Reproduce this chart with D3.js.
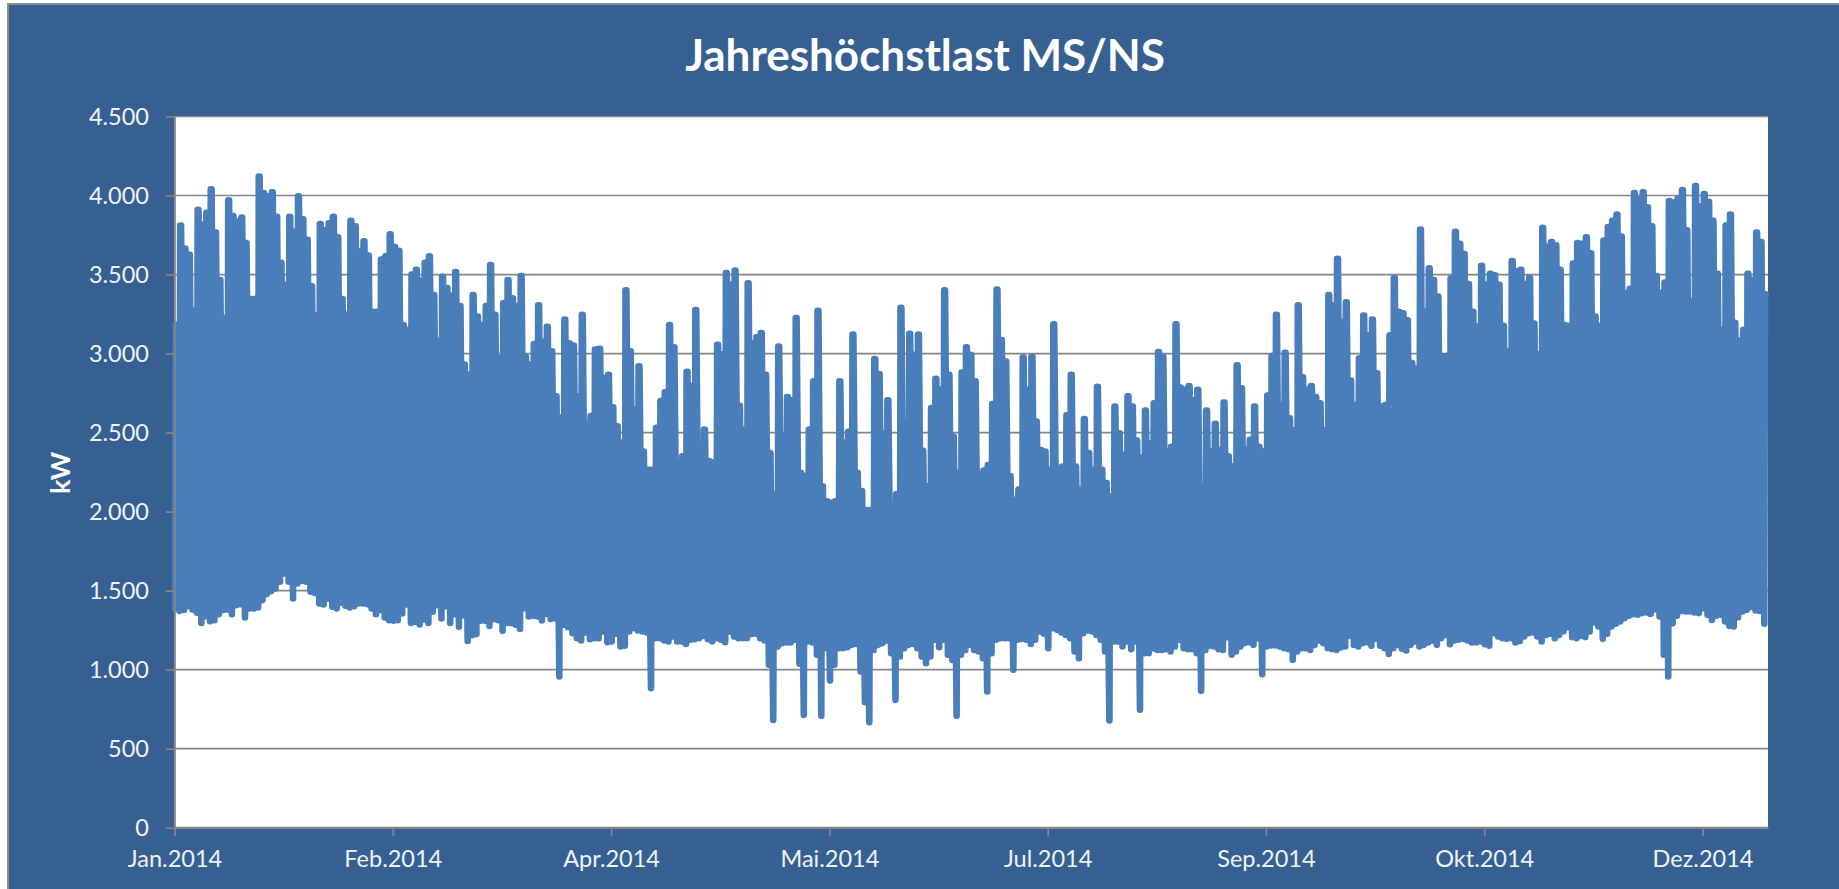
<!DOCTYPE html>
<html>
<head>
<meta charset="utf-8">
<title>Jahreshöchstlast MS/NS</title>
<script src="https://cdn.jsdelivr.net/npm/d3@7"></script>
<style>
  html, body { margin: 0; padding: 0; background: #fff; }
  svg { display: block; }
  text { font-family: Lato, "Open Sans", sans-serif; }
</style>
</head>
<body>
<script>
// highest load of each day, kW (one row per week, starting on Monday)
var dailyMax = [
  3180,3810,3665,3625,3270,
  3910,3815,3890,4040,3765,3465,3225,
  3970,3870,3835,3860,3700,3345,3345,
  4120,4015,3995,4020,3865,3575,3435,
  3865,3770,3995,3850,3720,3425,3240,
  3820,3780,3825,3865,3735,3345,3245,
  3840,3805,3645,3710,3620,3265,3265,
  3595,3615,3755,3675,3650,3180,3150,
  3500,3530,3460,3575,3615,3370,3080,
  3485,3415,3365,3515,3300,2930,2865,
  3370,3235,3180,3300,3560,3245,2970,
  3320,3465,3350,3300,3490,2980,2930,
  3060,3305,3075,3170,3015,2730,2595,
  3215,3065,3050,2730,3245,2550,2605,
  3025,3030,2845,2865,2660,2540,2435,
  3400,3015,2645,2920,2380,2265,2265,
  2530,2700,2755,3180,3040,2320,2350,
  2885,2795,3275,2425,2520,2320,2310,
  3055,2995,3510,3435,3525,2670,2520,
  3445,3065,3105,3130,2865,2370,2110,
  3045,2475,2725,2705,3225,2245,2225,
  2520,2825,3270,2160,2065,2055,2065,
  2825,2435,2505,3120,2245,2130,2010,
  2010,2965,2870,2495,2705,2035,2110,
  3290,2570,3125,2990,3120,2385,2160,
  2655,2840,2770,3400,2865,2475,2245,
  2880,3040,2990,2825,2235,2260,2295,
  2680,3405,3085,2950,2225,2075,2140,
  2975,2770,2980,2570,2390,2380,2265,
  3185,2265,2285,2610,2865,2285,2140,
  2585,2370,2265,2790,2265,2180,2095,
  2665,2495,2360,2730,2665,2450,2340,
  2640,2430,2685,3010,2980,2380,2410,
  3185,2785,2770,2795,2705,2770,2160,
  2640,2380,2555,2390,2690,2350,2285,
  2925,2780,2395,2455,2665,2410,2380,
  2735,2985,3245,2675,3005,2590,2515,
  3305,2850,2770,2795,2725,2685,2515,
  3370,3305,3600,3200,3325,2830,2675,
  2970,3240,3115,3215,2875,2665,2675,
  3115,3480,3265,3255,3210,2940,2905,
  3785,3265,3540,3465,3360,2985,2985,
  3475,3770,3695,3630,3440,3265,3170,
  3555,3435,3505,3495,3435,3175,3015,
  3585,3520,3530,3440,3480,3190,2995,
  3795,3675,3705,3685,3530,3180,3175,
  3570,3700,3695,3735,3635,3235,3175,
  3715,3800,3840,3880,3740,3380,3410,
  4015,3975,4020,3925,3805,3490,3385,
  3450,3965,3955,3980,4035,3780,3330,
  4060,3930,4010,3960,3840,3505,3150,
  3810,3880,3195,3080,3150,3505,3465,
  3765,3705,3375
];

// lowest load of each day, kW
var dailyMin = [
  1387,1372,1377,1402,1381,
  1360,1296,1339,1307,1313,1351,1377,
  1381,1351,1408,1414,1330,1387,1387,
  1393,1440,1478,1497,1514,1556,1609,
  1556,1450,1545,1562,1556,1493,1486,
  1419,1412,1450,1398,1387,1423,1404,
  1393,1402,1419,1419,1414,1387,1351,
  1377,1330,1313,1309,1313,1355,1412,
  1296,1303,1286,1317,1296,1366,1408,
  1324,1402,1296,1351,1271,1345,1182,
  1218,1225,1309,1309,1277,1320,1313,
  1246,1296,1294,1284,1258,1389,1336,
  1341,1336,1311,1353,1320,1326,957,
  1284,1269,1231,1199,1185,1235,1193,
  1199,1199,1242,1174,1178,1227,1147,
  1151,1242,1263,1248,1242,1235,883,
  1199,1199,1185,1178,1210,1178,1178,
  1163,1189,1193,1199,1214,1193,1178,
  1199,1189,1174,1242,1210,1199,1199,
  1199,1225,1227,1199,1185,1031,682,
  1147,1168,1172,1172,1189,1037,714,
  1178,1172,1094,708,1136,931,1031,
  1136,1136,1142,1157,1163,988,794,
  668,1125,1157,1168,1185,1104,809,
  1083,1136,1157,1163,1136,1083,1041,
  1083,1189,1142,1189,1094,1062,708,
  1094,1125,1157,1125,1115,1073,862,
  1104,1189,1199,1199,1199,999,1189,
  1195,1189,1163,1189,1242,1227,1136,
  1263,1252,1235,1220,1199,1115,1073,
  1231,1248,1242,1220,1189,1115,678,
  1178,1178,1147,1178,1130,1178,746,
  1104,1104,1136,1125,1125,1130,1115,
  1147,1189,1136,1130,1130,1104,866,
  1125,1151,1147,1130,1125,1206,1094,
  1115,1147,1168,1174,1157,1199,971,
  1147,1153,1153,1147,1136,1130,1062,
  1115,1136,1136,1125,1157,1185,1168,
  1136,1130,1125,1140,1147,1214,1157,
  1147,1168,1174,1151,1195,1151,1136,
  1100,1136,1157,1132,1121,1157,1178,
  1147,1157,1172,1185,1157,1199,1220,
  1161,1185,1189,1195,1185,1172,1172,
  1178,1161,1151,1231,1210,1199,1195,
  1199,1172,1182,1210,1231,1235,1210,
  1178,1220,1227,1199,1220,1242,1269,
  1206,1199,1214,1206,1242,1298,1273,
  1195,1227,1273,1290,1305,1326,1341,
  1351,1347,1358,1362,1353,1383,1336,
  1094,957,1294,1341,1372,1368,1368,
  1362,1358,1389,1347,1315,1341,1347,
  1305,1277,1273,1332,1368,1379,1396,
  1374,1372,1290
];

var yTicks = [0, 500, 1000, 1500, 2000, 2500, 3000, 3500, 4000, 4500];
var xTickDays = [0, 50, 100, 150, 200, 250, 300, 350];
var xTickLabels = ["Jan.2014", "Feb.2014", "Apr.2014", "Mai.2014", "Jul.2014", "Sep.2014", "Okt.2014", "Dez.2014"];
var chartTitle = "Jahreshöchstlast MS/NS";
var yTitle = "kW";

var width = 1839;
var height = 889;
var left = 174.5, right = 1768, top_ = 116.5, bottom = 827.7;

var svg = d3.select("body").append("svg")
  .attr("width", width)
  .attr("height", height);

// outer chart area
svg.append("rect")
  .attr("x", 8).attr("y", 4)
  .attr("width", width).attr("height", height)
  .attr("fill", "#376092")
  .attr("stroke", "#8c8c8c")
  .attr("stroke-width", 2);

svg.append("rect")
  .attr("x", left).attr("y", top_)
  .attr("width", right - left).attr("height", bottom - top_)
  .attr("fill", "#fff");

var x = d3.scaleLinear().domain([0, 365]).range([left, right]);
var y = d3.scaleLinear().domain([0, 4500]).range([bottom, top_]);

var de = d3.formatLocale({ decimal: ",", thousands: ".", grouping: [3], currency: ["", " €"] });

// gridlines
svg.append("g").selectAll("line")
  .data(yTicks)
  .enter().append("line")
  .attr("x1", left).attr("x2", right)
  .attr("y1", function(d) { return y(d); })
  .attr("y2", function(d) { return y(d); })
  .attr("stroke", "#868686")
  .attr("stroke-width", 1.7);

// the load goes down to the night value and back up to the peak every day,
// and stays at the peak for a few hours
var points = [];
d3.range(dailyMax.length).forEach(function(i) {
  points.push([i + 0.15, dailyMin[i]]);
  points.push([i + 0.3, dailyMax[i]]);
  points.push([i + 0.5, dailyMax[i]]);
});

var line = d3.line()
  .x(function(d) { return x(d[0]); })
  .y(function(d) { return y(d[1]); });

svg.append("path")
  .datum(points)
  .attr("d", line)
  .attr("fill", "none")
  .attr("stroke", "#4a7ebb")
  .attr("stroke-width", 6.6)
  .attr("stroke-linecap", "round")
  .attr("stroke-linejoin", "round");

// axes
var yAxis = d3.axisLeft(y)
  .tickValues(yTicks)
  .tickSize(8.5)
  .tickSizeOuter(0)
  .tickPadding(17)
  .tickFormat(de.format(",d"));

var xAxis = d3.axisBottom(x)
  .tickValues(xTickDays)
  .tickSize(8.5)
  .tickSizeOuter(0)
  .tickPadding(14)
  .tickFormat(function(d, i) { return xTickLabels[i]; });

var gy = svg.append("g").attr("transform", "translate(" + left + ",0)").call(yAxis);
var gx = svg.append("g").attr("transform", "translate(0," + bottom + ")").call(xAxis);

[gx, gy].forEach(function(g) {
  g.selectAll(".domain").attr("stroke", "#868686").attr("stroke-width", 1.7);
  g.selectAll(".tick line").attr("stroke", "#868686").attr("stroke-width", 1.7);
  g.selectAll("text")
    .attr("fill", "#eef2f7")
    .style("font-family", "Lato, 'Open Sans', sans-serif")
    .style("font-size", "23.5px");
});

svg.append("text")
  .attr("x", 925)
  .attr("y", 71)
  .attr("text-anchor", "middle")
  .attr("fill", "#fff")
  .style("font-size", "44px")
  .style("font-weight", "700")
  .text(chartTitle);

svg.append("text")
  .attr("transform", "translate(70,473) rotate(-90)")
  .attr("text-anchor", "middle")
  .attr("fill", "#fff")
  .style("font-size", "27px")
  .style("font-weight", "700")
  .text(yTitle);
</script>
</body>
</html>
